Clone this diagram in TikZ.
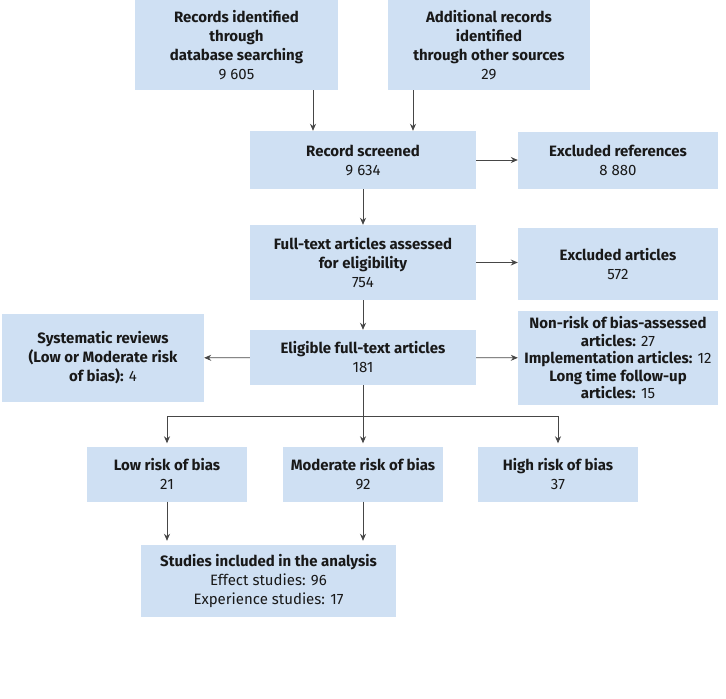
\documentclass[tikz,border=0pt]{standalone}
\usepackage{fontspec}
\setmainfont{Fira Sans}
\usetikzlibrary{arrows.meta}
\definecolor{boxblue}{RGB}{207,224,243}
\definecolor{linegray}{RGB}{70,70,70}
\newcommand{\hd}[1]{\textbf{#1}}
\begin{document}
\begin{tikzpicture}[x=1pt, y=-1pt,
    every node/.style={font=\fontsize{15}{19}\selectfont, text=black!90},
    box/.style={fill=boxblue, align=center, inner sep=1pt},
    arr/.style={-{Stealth[length=7pt,width=6pt]}, draw=linegray, thick}]
  \useasboundingbox (0,0) rectangle (726,699);
  \node[box, minimum width=203pt, minimum height=90pt] (records) at (236.5,45) {\hd{Records identified}\\\hd{through}\\\hd{database searching}\\9 605};
  \node[box, minimum width=202pt, minimum height=90pt] (additional) at (489,45) {\hd{Additional records}\\\hd{identified}\\\hd{through other sources}\\29};
  \node[box, minimum width=226pt, minimum height=58pt] (screened) at (363,160) {\hd{Record screened}\\9 634};
  \node[box, minimum width=200pt, minimum height=57pt] (exref) at (618,160) {\hd{Excluded references}\\8 880};
  \node[box, minimum width=226pt, minimum height=75pt] (fulltext) at (363,262.5) {\hd{Full-text articles assessed}\\\hd{for eligibility}\\754};
  \node[box, minimum width=200pt, minimum height=72pt] (exart) at (618,264) {\hd{Excluded articles}\\572};
  \node[box, minimum width=226pt, minimum height=55pt] (eligible) at (363,357.5) {\hd{Eligible full-text articles}\\181};
  \node[box, minimum width=202pt, minimum height=88pt] (sysrev) at (103,358) {\hd{Systematic reviews}\\\hd{(Low or Moderate risk}\\\hd{of bias):} 4};
  \node[box, minimum width=200pt, minimum height=94pt, font=\fontsize{15}{17.5}\selectfont] (nonrisk) at (618,358) {\hd{Non-risk of bias-assessed}\\\hd{articles:} 27\\\hd{Implementation articles:} 12\\\hd{Long time follow-up}\\\hd{articles:} 15};
  \node[box, minimum width=160pt, minimum height=55pt] (low) at (167,474) {\hd{Low risk of bias}\\21};
  \node[box, minimum width=160pt, minimum height=55pt] (moderate) at (363,474) {\hd{Moderate risk of bias}\\92};
  \node[box, minimum width=160pt, minimum height=55pt] (high) at (558,474) {\hd{High risk of bias}\\37};
  \node[box, minimum width=255pt, minimum height=72pt] (studies) at (268.5,581) {\hd{Studies included in the analysis}\\Effect studies: 96\\Experience studies: 17};
  \draw[arr] ([xshift=76.5pt]records.south) -- ([xshift=76.5pt]records.south |- screened.north);
  \draw[arr] ([xshift=-76pt]additional.south) -- ([xshift=-76pt]additional.south |- screened.north);
  \draw[arr] (screened) -- (exref);
  \draw[arr] (screened) -- (fulltext);
  \draw[arr] (fulltext.east) -- (fulltext.east -| exart.west);
  \draw[arr] (fulltext) -- (eligible);
  \draw[arr] (eligible) -- (sysrev);
  \draw[arr] (eligible) -- (nonrisk);
  \draw[draw=linegray, thick] (eligible.south) -- ++(0,31) coordinate (split);
  \draw[arr, shorten >=3pt] (split) -| (low.north);
  \draw[arr, shorten >=3pt] (split) -- (moderate.north);
  \draw[arr, shorten >=3pt] (split) -| (high.north);
  \draw[arr, shorten >=4pt] (low.south) -- (low.south |- studies.north);
  \draw[arr, shorten >=4pt] (moderate.south) -- (moderate.south |- studies.north);
\end{tikzpicture}
\end{document}
